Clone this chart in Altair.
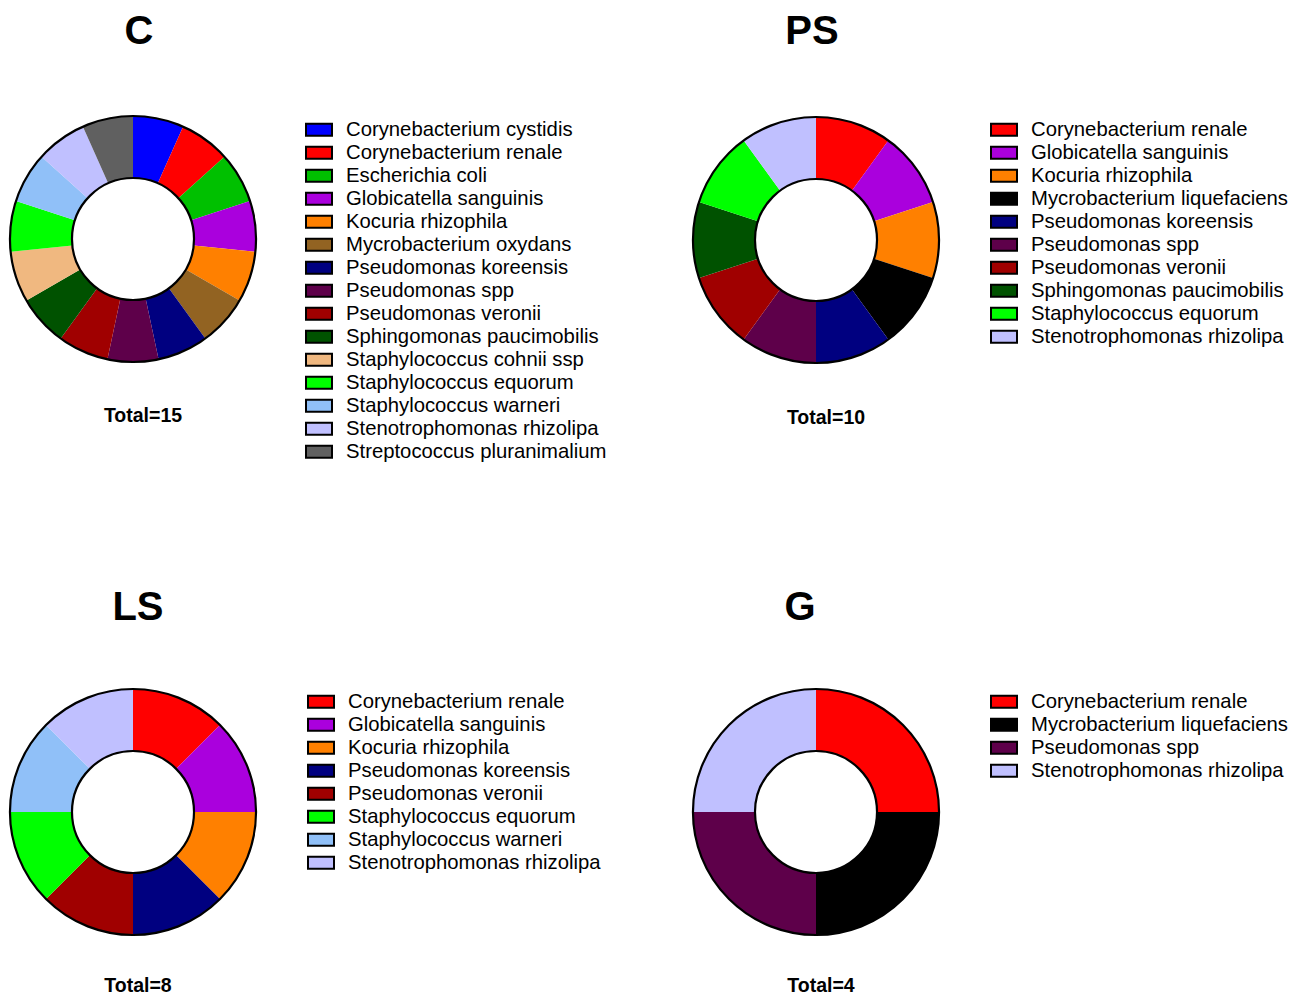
import altair as alt
import pandas as pd

# ---------------- data ----------------
C_species = ["Corynebacterium cystidis", "Corynebacterium renale", "Escherichia coli",
             "Globicatella sanguinis", "Kocuria rhizophila", "Mycrobacterium oxydans",
             "Pseudomonas koreensis", "Pseudomonas spp", "Pseudomonas veronii",
             "Sphingomonas paucimobilis", "Staphylococcus cohnii ssp", "Staphylococcus equorum",
             "Staphylococcus warneri", "Stenotrophomonas rhizolipa", "Streptococcus pluranimalium"]
C_counts = [1] * 15

PS_species = ["Corynebacterium renale", "Globicatella sanguinis", "Kocuria rhizophila",
              "Mycrobacterium liquefaciens", "Pseudomonas koreensis", "Pseudomonas spp",
              "Pseudomonas veronii", "Sphingomonas paucimobilis", "Staphylococcus equorum",
              "Stenotrophomonas rhizolipa"]
PS_counts = [1] * 10

LS_species = ["Corynebacterium renale", "Globicatella sanguinis", "Kocuria rhizophila",
              "Pseudomonas koreensis", "Pseudomonas veronii", "Staphylococcus equorum",
              "Staphylococcus warneri", "Stenotrophomonas rhizolipa"]
LS_counts = [1] * 8

G_species = ["Corynebacterium renale", "Mycrobacterium liquefaciens", "Pseudomonas spp",
             "Stenotrophomonas rhizolipa"]
G_counts = [1] * 4

panel_names = ["C", "PS", "LS", "G"]

# ---------------- styles ----------------
species_colors = {
    "Corynebacterium cystidis": "#0000FF",
    "Corynebacterium renale": "#FF0000",
    "Escherichia coli": "#00C000",
    "Globicatella sanguinis": "#AA00DD",
    "Kocuria rhizophila": "#FF8000",
    "Mycrobacterium oxydans": "#926322",
    "Mycrobacterium liquefaciens": "#000000",
    "Pseudomonas koreensis": "#000080",
    "Pseudomonas spp": "#5E004A",
    "Pseudomonas veronii": "#A00000",
    "Sphingomonas paucimobilis": "#005200",
    "Staphylococcus cohnii ssp": "#F0B880",
    "Staphylococcus equorum": "#00FF00",
    "Staphylococcus warneri": "#90C0F8",
    "Stenotrophomonas rhizolipa": "#C0C0FF",
    "Streptococcus pluranimalium": "#606060",
}

FONT = "Liberation Sans"
R_OUT, R_IN = 123, 61

# layout (chart coordinates = page - 8)
layout = {
    "C":  dict(cx=125, cy=231, tx=131, ty=36, totx=135, toty=414, lx=297, ly=110.5),
    "PS": dict(cx=808, cy=232, tx=804, ty=36, totx=818, toty=416, lx=982, ly=110.5),
    "LS": dict(cx=125, cy=804, tx=130, ty=612, totx=130, toty=984, lx=299, ly=682.5),
    "G":  dict(cx=808, cy=804, tx=792, ty=612, totx=813, toty=984, lx=982, ly=682.5),
}

panel_data = {"C": (C_species, C_counts), "PS": (PS_species, PS_counts),
              "LS": (LS_species, LS_counts), "G": (G_species, G_counts)}

SYMBOL = "M-1,-0.46H1V0.46H-1Z"

layers = []
for name in panel_names:
    species, counts = panel_data[name]
    L = layout[name]
    df = pd.DataFrame({"species": species, "count": counts, "idx": list(range(len(species)))})
    colors = [species_colors[s] for s in species]

    arcs = alt.Chart(df).mark_arc(radius=R_OUT, radius2=R_IN, stroke=None).encode(
        theta=alt.Theta("count:Q", stack=True),
        order=alt.Order("idx:Q"),
        color=alt.Color(
            "species:N",
            scale=alt.Scale(domain=species, range=colors),
            legend=alt.Legend(
                orient="none", legendX=L["lx"], legendY=L["ly"], title=None,
                symbolType=SYMBOL, symbolSize=676, symbolStrokeColor="black",
                symbolStrokeWidth=2, symbolOpacity=1,
                labelFont=FONT, labelFontSize=20.3, labelColor="black", labelLimit=0,
                labelOffset=13, rowPadding=0, clipHeight=22.4, padding=0,
            ),
        ),
        x=alt.value(L["cx"]),
        y=alt.value(L["cy"]),
    )

    info = pd.DataFrame({"title": [name], "total": [f"Total={sum(counts)}"]})
    outline = alt.Chart(info).mark_arc(
        radius=R_OUT, radius2=R_IN, theta=0, theta2=6.283185307179586,
        filled=False, stroke="black", strokeWidth=2.2,
    ).encode(x=alt.value(L["cx"]), y=alt.value(L["cy"]))

    title = alt.Chart(info).mark_text(
        font=FONT, fontSize=40, fontWeight="bold", color="black",
        align="center", baseline="alphabetic",
    ).encode(text="title:N", x=alt.value(L["tx"]), y=alt.value(L["ty"]))

    total = alt.Chart(info).mark_text(
        font=FONT, fontSize=19.5, fontWeight="bold", color="black",
        align="center", baseline="alphabetic",
    ).encode(text="total:N", x=alt.value(L["totx"]), y=alt.value(L["toty"]))

    layers += [arcs, outline, title, total]

chart = alt.layer(*layers).resolve_scale(
    color="independent", theta="independent"
).properties(
    width=1285, height=989, padding=0, autosize="none", background="white"
).configure_view(stroke=None)

chart.save("out.html", embed_options={"renderer": "svg", "actions": False})
